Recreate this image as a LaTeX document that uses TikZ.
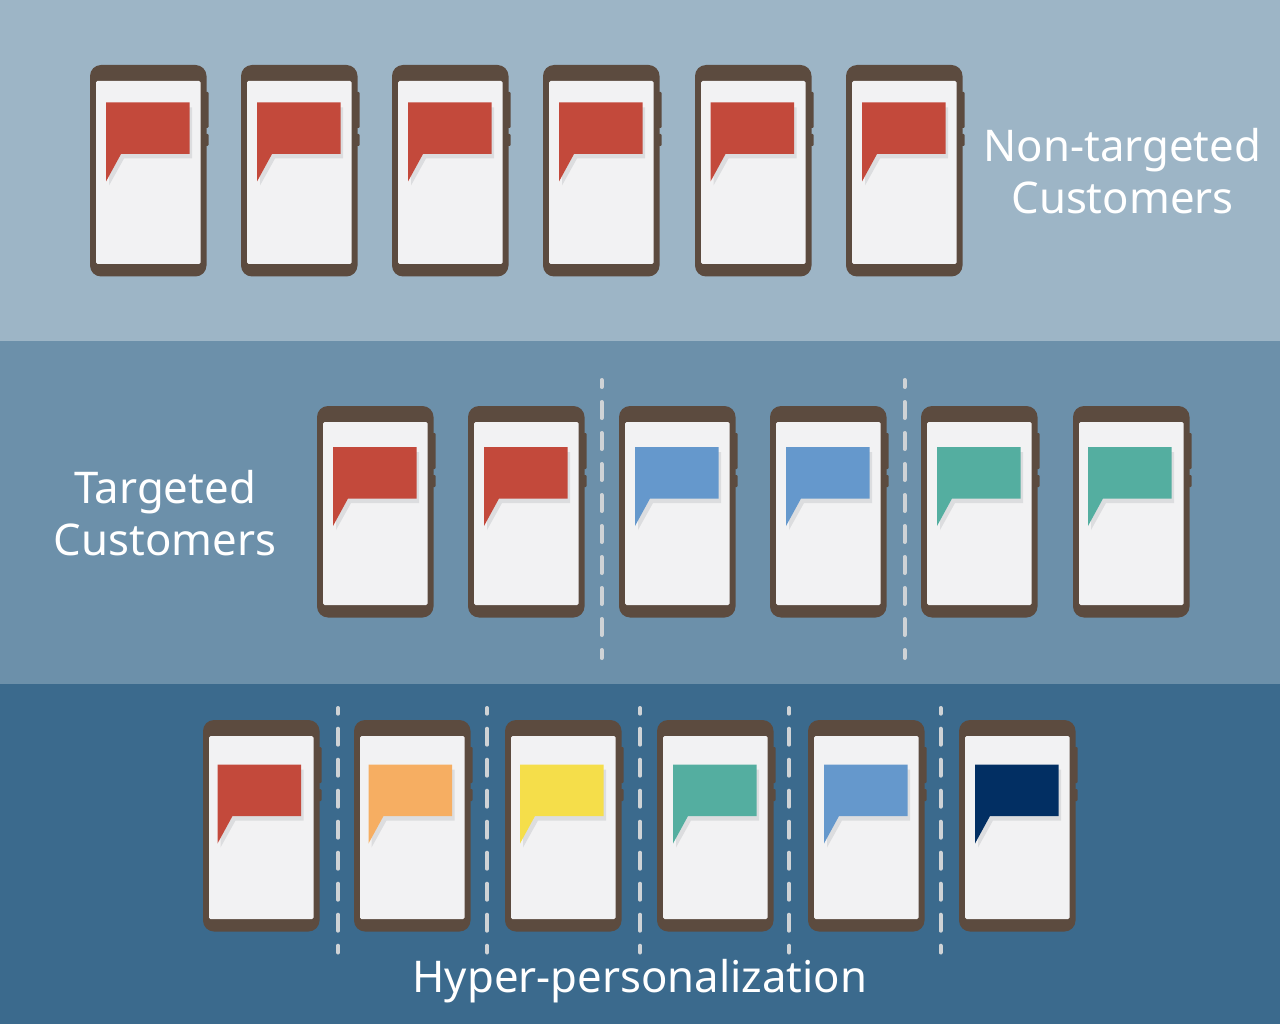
\documentclass[tikz,border=0pt]{standalone}
\usepackage{fontspec}
\setmainfont{Noto Sans}
\definecolor{bandA}{HTML}{9DB5C6}
\definecolor{bandB}{HTML}{6C90AA}
\definecolor{bandC}{HTML}{3B6A8D}
\definecolor{phonebody}{HTML}{5C4B3F}
\definecolor{screen}{HTML}{F2F2F3}
\definecolor{shadowc}{HTML}{DCDDDF}
\definecolor{dashc}{HTML}{CFD3D6}
\definecolor{bred}{HTML}{C3493B}
\definecolor{bblue}{HTML}{6598CC}
\definecolor{bgreen}{HTML}{54AEA0}
\definecolor{borange}{HTML}{F6AE62}
\definecolor{byellow}{HTML}{F5DE4A}
\definecolor{bnavy}{HTML}{022F63}
\tikzset{
  x=1pt,y=-1pt,
  label text/.style={text=white,font=\fontsize{43.7}{52}\selectfont,align=center,inner sep=0pt},
  divider/.style={draw=dashc,line width=4pt,line cap=round,dash pattern=on 16pt off 15pt},
  pics/phone/.style n args={3}{code={
    \fill[phonebody,rounded corners=1pt] (114,27) rectangle (118.5,63);
    \fill[phonebody,rounded corners=1pt] (114,69) rectangle (118.5,81);
    \fill[phonebody,rounded corners=11pt] (0,0) rectangle (116.5,211.5);
    \fill[screen,rounded corners=1.5pt] (6,16) rectangle (110.5,199);
    \fill[shadowc] (#2+3,#3+5) -- ++(83,0) -- ++(0,51) -- ++(-68,0) -- ++(-15,27) -- cycle;
    \fill[#1] (#2,#3) -- ++(83.5,0) -- ++(0,51.5) -- ++(-68.5,0) -- ++(-15,27.5) -- cycle;
  }}
}
\begin{document}
\begin{tikzpicture}
\useasboundingbox (0,0) rectangle (1280,1024);
\fill[bandA] (0,0) rectangle (1280,341);
\fill[bandB] (0,341) rectangle (1280,684);
\fill[bandC] (0,684) rectangle (1280,1024);
% row 1
\foreach \px/\bx/\n in {90/16/a,241/16/b,392/16/c,543/16/d,695/15.5/e,846/16/f}
  \pic (r1\n) at (\px,65) {phone={bred}{\bx}{37.5}};
\node[label text] (t1) at (1122.5,171) {Non-targeted\\Customers};
% row 2
\foreach \px/\c/\bx/\n in {317/bred/16/a,468/bred/16/b,619/bblue/16/c,770/bblue/16/d,921/bgreen/16/e,1073/bgreen/15/f}
  \pic (r2\n) at (\px,406) {phone={\c}{\bx}{41}};
\node[label text] (t2) at (165,513) {Targeted\\Customers};
\foreach \dx/\n in {601.5/a,904.5/b}{
  \coordinate (d2\n s) at (\dx,380);
  \coordinate (d2\n e) at (\dx,658);
  \path[divider,dash phase=9pt] (d2\n s) -- (d2\n e);
}
% row 3
\foreach \px/\c/\bx/\n in {203/bred/14.5/a,354/borange/14.5/b,505/byellow/15/c,657/bgreen/16/d,808/bblue/16/e,959/bnavy/16/f}
  \pic (r3\n) at (\px,720) {phone={\c}{\bx}{44.5}};
\foreach \dx/\n in {338/a,487/b,640/c,789/d,940.5/e}{
  \coordinate (d3\n s) at (\dx,708);
  \coordinate (d3\n e) at (\dx,952.5);
  \path[divider,dash phase=10.3pt] (d3\n s) -- (d3\n e);
}
\node[label text,anchor=base] (t3) at (640,992) {Hyper-personalization};
\end{tikzpicture}
\end{document}
